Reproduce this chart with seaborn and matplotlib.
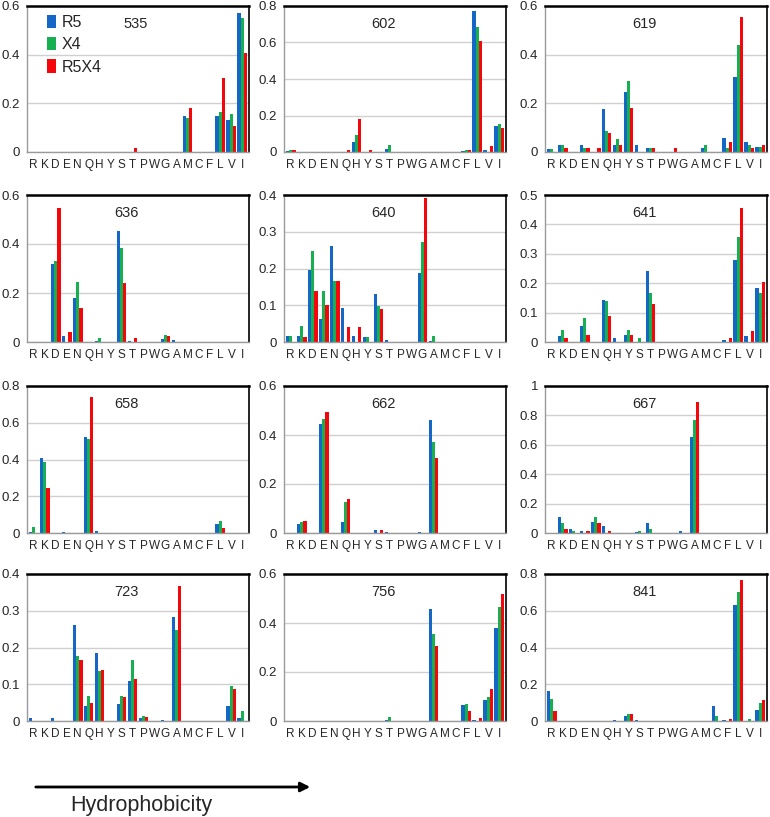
import pandas as pd
import matplotlib.pyplot as plt
from matplotlib.patches import FancyArrowPatch
from matplotlib.ticker import FormatStrFormatter, MultipleLocator
import seaborn as sns

residues = ['R', 'K', 'D', 'E', 'N', 'Q', 'H', 'Y', 'S', 'T',
            'P', 'W', 'G', 'A', 'M', 'C', 'F', 'L', 'V', 'I']
strains = ['R5', 'X4', 'R5X4']
colors = ['#1467c4', '#16b050', '#f5060b']

# frequencies per position, in residue order above
r5_535 = [0, 0, 0, 0, 0, 0, 0, 0, 0, 0, 0, 0, 0, 0, 0.15, 0, 0, 0.15, 0.13, 0.57]
x4_535 = [0, 0, 0, 0, 0, 0, 0, 0, 0, 0, 0, 0, 0, 0, 0.14, 0, 0, 0.165, 0.155, 0.55]
r5x4_535 = [0, 0, 0, 0, 0, 0, 0, 0, 0, 0.015, 0, 0, 0, 0, 0.18, 0, 0, 0.305, 0.105, 0.405]

r5_602 = [0.005, 0, 0, 0, 0, 0, 0.055, 0, 0, 0.015, 0, 0, 0, 0, 0, 0, 0.005, 0.77, 0.01, 0.14]
x4_602 = [0.01, 0, 0, 0, 0, 0, 0.095, 0, 0, 0.04, 0, 0, 0, 0, 0, 0, 0.01, 0.685, 0, 0.155]
r5x4_602 = [0.01, 0, 0, 0, 0, 0.01, 0.18, 0.01, 0, 0, 0, 0, 0, 0, 0, 0, 0.01, 0.61, 0.035, 0.13]

r5_619 = [0.013, 0.027, 0, 0.03, 0, 0.175, 0.03, 0.245, 0.03, 0.018, 0, 0, 0, 0, 0.015, 0, 0.058, 0.31, 0.04, 0.02]
x4_619 = [0.013, 0.03, 0, 0.015, 0, 0.085, 0.055, 0.29, 0, 0.015, 0, 0, 0, 0, 0.03, 0, 0.015, 0.44, 0.03, 0.02]
r5x4_619 = [0, 0.015, 0, 0.015, 0.015, 0.08, 0.027, 0.18, 0, 0.015, 0, 0.015, 0, 0, 0, 0, 0.04, 0.555, 0.015, 0.027]

r5_636 = [0, 0, 0.32, 0.025, 0.18, 0, 0.005, 0, 0.455, 0.003, 0, 0, 0.012, 0.007, 0, 0, 0, 0, 0, 0]
x4_636 = [0, 0, 0.33, 0, 0.245, 0, 0.015, 0, 0.385, 0, 0, 0, 0.03, 0, 0, 0, 0, 0, 0, 0]
r5x4_636 = [0, 0, 0.545, 0.04, 0.14, 0, 0, 0, 0.24, 0.015, 0, 0, 0.025, 0, 0, 0, 0, 0, 0, 0]

r5_640 = [0.015, 0.017, 0.195, 0.062, 0.26, 0.092, 0.017, 0.014, 0.13, 0.005, 0, 0, 0.187, 0.003, 0, 0, 0, 0, 0, 0]
x4_640 = [0.015, 0.043, 0.247, 0.138, 0.165, 0, 0, 0.014, 0.097, 0, 0, 0, 0.273, 0.015, 0, 0, 0, 0, 0, 0]
r5x4_640 = [0, 0.013, 0.14, 0.102, 0.165, 0.04, 0.04, 0, 0.09, 0, 0, 0, 0.393, 0, 0, 0, 0, 0, 0, 0]

r5_641 = [0, 0.02, 0, 0.053, 0, 0.142, 0.015, 0.025, 0, 0.242, 0, 0, 0, 0, 0, 0, 0.008, 0.28, 0.022, 0.183]
x4_641 = [0, 0.04, 0, 0.083, 0, 0.138, 0, 0.04, 0.015, 0.165, 0, 0, 0, 0, 0, 0, 0, 0.357, 0, 0.167]
r5x4_641 = [0, 0.012, 0, 0.025, 0, 0.09, 0, 0.025, 0, 0.128, 0, 0, 0, 0, 0, 0, 0.012, 0.457, 0.038, 0.204]

r5_658 = [0.003, 0.41, 0, 0.005, 0, 0.52, 0.012, 0, 0, 0, 0, 0, 0, 0, 0, 0, 0, 0.05, 0, 0]
x4_658 = [0.03, 0.385, 0, 0, 0, 0.51, 0, 0, 0, 0, 0, 0, 0, 0, 0, 0, 0, 0.065, 0, 0]
r5x4_658 = [0, 0.245, 0, 0, 0, 0.74, 0, 0, 0, 0, 0, 0, 0, 0, 0, 0, 0, 0.025, 0, 0]

r5_662 = [0, 0.035, 0, 0.445, 0, 0.045, 0, 0, 0.012, 0.004, 0, 0, 0.004, 0.46, 0, 0, 0, 0, 0, 0]
x4_662 = [0, 0.045, 0, 0.465, 0, 0.125, 0, 0, 0, 0, 0, 0, 0, 0.37, 0, 0, 0, 0, 0, 0]
r5x4_662 = [0, 0.05, 0, 0.495, 0, 0.14, 0, 0, 0.012, 0, 0, 0, 0, 0.305, 0, 0, 0, 0, 0, 0]

r5_667 = [0, 0.11, 0.03, 0.015, 0.075, 0.045, 0, 0, 0.01, 0.065, 0, 0, 0.015, 0.65, 0, 0, 0, 0, 0, 0]
x4_667 = [0, 0.07, 0.015, 0, 0.11, 0, 0, 0, 0.015, 0.03, 0, 0, 0, 0.77, 0, 0, 0, 0, 0, 0]
r5x4_667 = [0, 0.03, 0, 0.015, 0.065, 0.015, 0, 0, 0, 0, 0, 0, 0, 0.89, 0, 0, 0, 0, 0, 0]

r5_723 = [0.007, 0, 0.007, 0, 0.26, 0.042, 0.185, 0, 0.045, 0.11, 0.008, 0, 0.004, 0.282, 0, 0, 0, 0, 0.042, 0.007]
x4_723 = [0, 0, 0, 0, 0.178, 0.068, 0.137, 0, 0.068, 0.165, 0.014, 0, 0, 0.248, 0, 0, 0, 0, 0.096, 0.027]
r5x4_723 = [0, 0, 0, 0, 0.165, 0.05, 0.14, 0, 0.065, 0.113, 0.012, 0, 0, 0.367, 0, 0, 0, 0, 0.088, 0]

r5_756 = [0, 0, 0, 0, 0, 0, 0, 0, 0, 0.004, 0, 0, 0, 0.457, 0, 0, 0.065, 0.005, 0.085, 0.38]
x4_756 = [0, 0, 0, 0, 0, 0, 0, 0, 0, 0.015, 0, 0, 0, 0.357, 0, 0, 0.068, 0, 0.097, 0.465]
r5x4_756 = [0, 0, 0, 0, 0, 0, 0, 0, 0, 0, 0, 0, 0, 0.305, 0, 0, 0.04, 0.012, 0.13, 0.52]

r5_841 = [0.165, 0, 0, 0, 0, 0, 0.003, 0.025, 0.005, 0, 0, 0, 0, 0, 0, 0.083, 0.008, 0.632, 0, 0.06]
x4_841 = [0.122, 0, 0, 0, 0, 0, 0, 0.04, 0, 0, 0, 0, 0, 0, 0, 0.028, 0, 0.7, 0.013, 0.097]
r5x4_841 = [0.053, 0, 0, 0, 0, 0, 0, 0.04, 0, 0, 0, 0, 0, 0, 0, 0, 0.012, 0.768, 0, 0.117]

positions = ['535', '602', '619', '636', '640', '641',
             '658', '662', '667', '723', '756', '841']
ymax = [0.6, 0.8, 0.6, 0.6, 0.4, 0.5, 0.8, 0.6, 1.0, 0.4, 0.6, 0.8]
series = [
    (r5_535, x4_535, r5x4_535), (r5_602, x4_602, r5x4_602), (r5_619, x4_619, r5x4_619),
    (r5_636, x4_636, r5x4_636), (r5_640, x4_640, r5x4_640), (r5_641, x4_641, r5x4_641),
    (r5_658, x4_658, r5x4_658), (r5_662, x4_662, r5x4_662), (r5_667, x4_667, r5x4_667),
    (r5_723, x4_723, r5x4_723), (r5_756, x4_756, r5x4_756), (r5_841, x4_841, r5x4_841),
]

rows = []
for pos, vals in zip(positions, series):
    for strain, v in zip(strains, vals):
        for aa, f in zip(residues, v):
            rows.append({'position': pos, 'strain': strain, 'residue': aa, 'freq': f})
df = pd.DataFrame(rows)

sns.set_style('white')
plt.rcParams['font.family'] = ['Liberation Sans', 'DejaVu Sans']

W, H = 770, 817
fig = plt.figure(figsize=(W / 100, H / 100), dpi=100)

col_left = [27, 284, 545]
row_span = [(6, 152), (195, 342), (386, 533), (574, 721)]
ax_w = 222

for k, pos in enumerate(positions):
    r, c = divmod(k, 3)
    top, bot = row_span[r]
    ax = fig.add_axes([col_left[c] / W, 1 - bot / H, ax_w / W, (bot - top) / H])
    sub = df[df['position'] == pos]
    sns.barplot(data=sub, x='residue', y='freq', hue='strain', order=residues,
                hue_order=strains, palette=colors, width=0.9, saturation=1,
                errorbar=None, legend=(k == 0), linewidth=0, ax=ax)
    ax.set_ylim(0, ymax[k])
    ax.set_xlim(-0.6, 19.6)
    step = 0.1 if ymax[k] <= 0.5 else 0.2
    ax.yaxis.set_major_locator(MultipleLocator(step))
    ax.yaxis.set_major_formatter(FormatStrFormatter('%g'))
    ax.grid(axis='y', color='#d0d0d0', lw=1)
    ax.set_axisbelow(True)
    ax.set_xlabel('')
    ax.set_ylabel('')
    ax.tick_params(length=0)
    ax.tick_params(axis='y', pad=5, labelsize=9.5)
    ax.tick_params(axis='x', pad=5, labelsize=8.5)
    for s in ['left', 'bottom']:
        ax.spines[s].set_color('#9a9a9a')
        ax.spines[s].set_linewidth(1)
    ax.spines['top'].set_color('black')
    ax.spines['top'].set_linewidth(1.8)
    ax.spines['right'].set_color('black')
    ax.spines['right'].set_linewidth(1.2)
    ax.text(0.49 if k == 0 else 0.45, 0.88, pos, transform=ax.transAxes,
            ha='center', va='center', fontsize=10.5)
    if k == 0:
        h, l = ax.get_legend_handles_labels()
        ax.legend(h, l, loc='upper left', bbox_to_anchor=(0.05, 1.0), frameon=False,
                  fontsize=11.5, handlelength=0.6, handleheight=0.9, handletextpad=0.3,
                  labelspacing=0.45, borderaxespad=0.15)

arrow = FancyArrowPatch((33 / W, 1 - 787 / H), (313 / W, 1 - 787 / H),
                        transform=fig.transFigure, arrowstyle='-|>',
                        mutation_scale=14, lw=2, color='black')
fig.add_artist(arrow)
fig.text(141 / W, 1 - 805 / H, 'Hydrophobicity', ha='center', va='center', fontsize=15.5)

fig.savefig('out.png', dpi=100)
